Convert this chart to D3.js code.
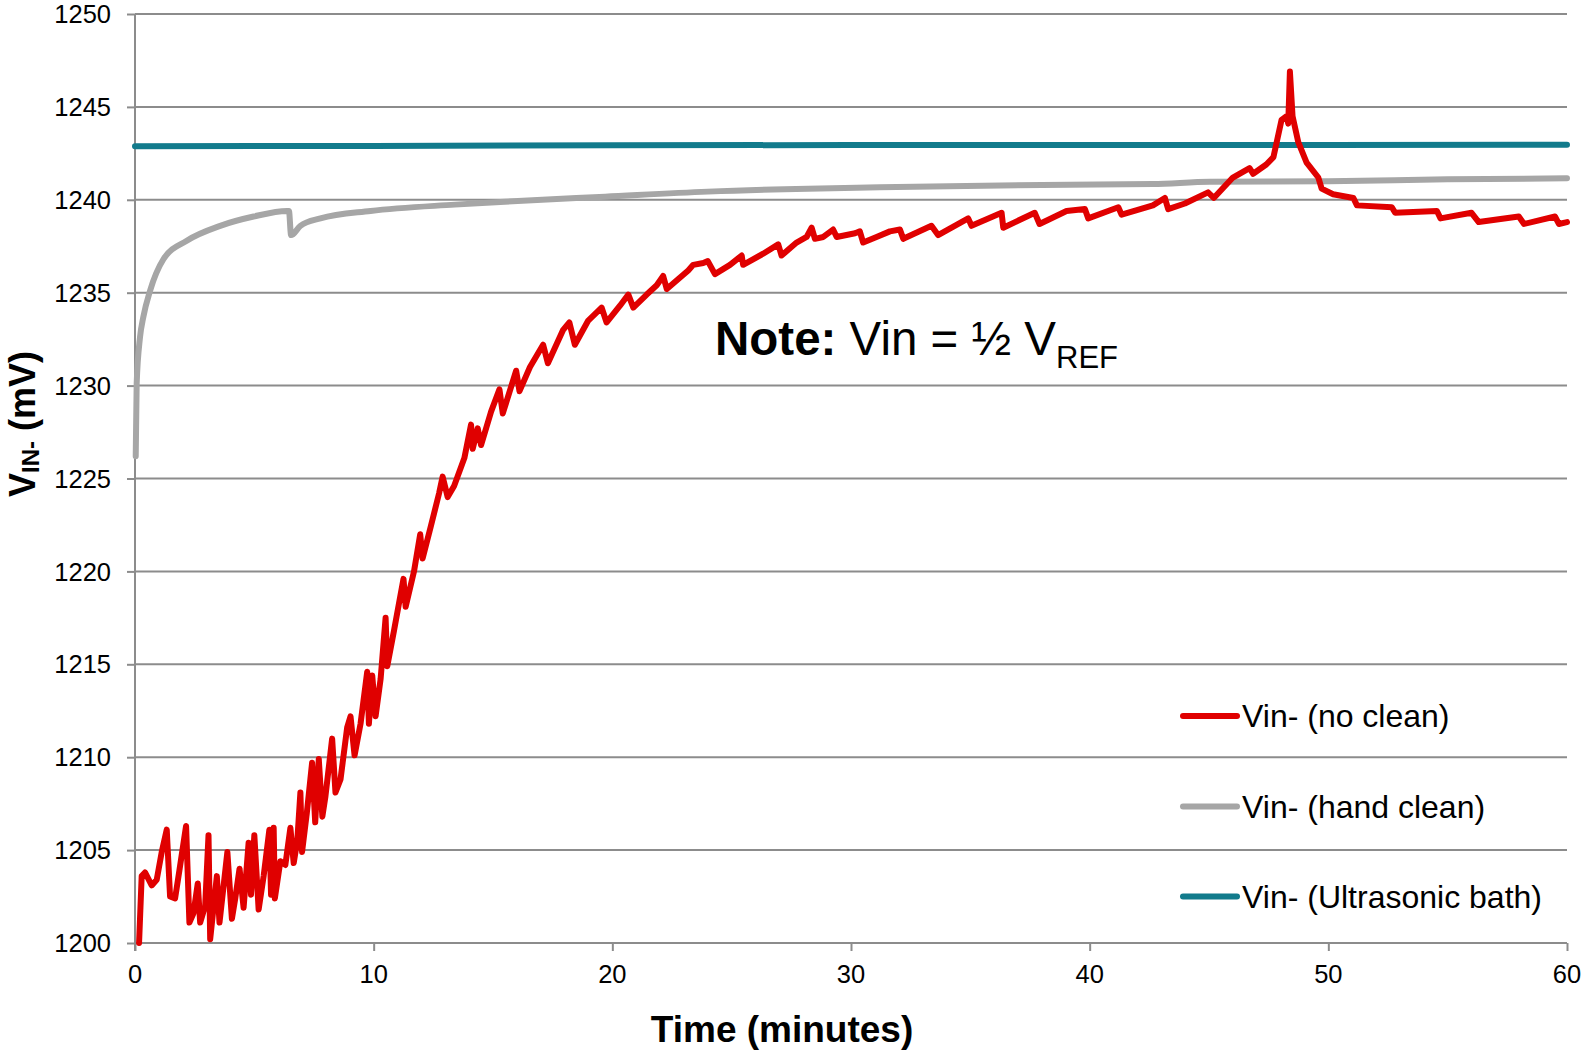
<!DOCTYPE html>
<html>
<head>
<meta charset="utf-8">
<script src="https://cdn.jsdelivr.net/npm/d3@7"></script>
<style>
  html, body { margin: 0; padding: 0; background: #fff; }
  svg { display: block; font-family: Arial, "Liberation Sans", sans-serif; }
</style>
</head>
<body>
<svg id="chart" width="1581" height="1050"></svg>
<script>
// ---- data ----
const xTicks = [0, 10, 20, 30, 40, 50, 60];
const yTicks = [1200, 1205, 1210, 1215, 1220, 1225, 1230, 1235, 1240, 1245, 1250];
const seriesNames = ["Vin- (no clean)", "Vin- (hand clean)", "Vin- (Ultrasonic bath)"];
const seriesColors = ["#E00000", "#A6A6A6", "#127B8C"];

const noCleanT = [0.17,0.28,0.42,0.70,0.91,1.12,1.33,1.47,1.68,1.86,2.14,2.28,2.45,2.63,2.73,2.94,3.08,3.15,3.43,3.54,3.87,4.06,4.20,4.38,4.55,4.76,4.86,5.00,5.18,5.39,5.63,5.70,5.81,5.86,6.09,6.30,6.51,6.65,6.80,6.93,7.00,7.20,7.42,7.55,7.70,7.85,7.98,8.26,8.40,8.61,8.89,9.03,9.20,9.45,9.73,9.80,9.94,10.08,10.29,10.50,10.57,10.85,11.25,11.34,11.69,11.95,12.05,12.39,12.74,12.89,13.10,13.37,13.80,14.08,14.15,14.36,14.50,14.92,15.27,15.41,15.97,16.11,16.55,17.10,17.30,17.94,18.20,18.43,18.99,19.55,19.76,20.32,20.67,20.88,21.44,21.86,22.13,22.28,23.18,23.39,23.81,24.00,24.30,24.93,25.42,25.48,26.32,26.95,27.09,27.72,28.14,28.35,28.49,28.84,29.25,29.40,30.17,30.37,30.51,31.07,31.63,32.05,32.19,33.37,33.65,34.91,35.05,36.31,36.38,37.70,37.90,39.03,39.80,39.94,41.20,41.34,42.65,43.15,43.29,43.99,44.96,45.20,46.00,46.70,46.85,47.40,47.70,48.04,48.25,48.32,48.39,48.50,48.74,49.09,49.58,49.72,50.20,51.05,51.20,52.66,52.80,54.55,54.70,56.00,56.30,57.98,58.20,59.50,59.66,60.00];
const noCleanV = [1200.0,1203.6,1203.8,1203.1,1203.4,1204.9,1206.1,1202.5,1202.4,1203.9,1206.3,1201.1,1201.6,1203.2,1201.1,1202.0,1205.8,1200.2,1203.6,1201.1,1204.9,1201.3,1202.4,1204.0,1201.9,1205.4,1202.6,1205.8,1201.8,1203.6,1206.1,1202.6,1206.2,1202.4,1204.4,1204.2,1206.2,1204.3,1205.5,1208.1,1204.9,1207.0,1209.7,1206.5,1209.9,1206.8,1207.9,1211.0,1208.1,1208.8,1211.6,1212.2,1210.1,1211.8,1214.6,1211.8,1214.4,1212.2,1214.2,1217.5,1214.9,1216.8,1219.6,1218.1,1220.0,1222.0,1220.7,1222.4,1224.2,1225.1,1224.0,1224.6,1226.1,1227.9,1226.6,1227.7,1226.8,1228.6,1229.8,1228.5,1230.8,1229.7,1231.0,1232.2,1231.2,1233.0,1233.4,1232.2,1233.5,1234.2,1233.4,1234.3,1234.9,1234.2,1234.9,1235.4,1235.9,1235.2,1236.2,1236.5,1236.6,1236.7,1236.0,1236.5,1237.0,1236.5,1237.1,1237.6,1237.0,1237.7,1238.0,1238.5,1237.9,1238.0,1238.4,1238.0,1238.2,1238.3,1237.7,1238.0,1238.3,1238.4,1237.9,1238.6,1238.1,1239.0,1238.6,1239.3,1238.5,1239.3,1238.7,1239.4,1239.5,1239.0,1239.6,1239.2,1239.7,1240.1,1239.5,1239.8,1240.4,1240.1,1241.2,1241.7,1241.4,1241.9,1242.3,1244.3,1244.5,1244.1,1246.9,1244.5,1243.1,1242.0,1241.2,1240.6,1240.3,1240.1,1239.7,1239.6,1239.3,1239.4,1239.0,1239.3,1238.8,1239.1,1238.7,1239.1,1238.7,1238.8];

const handCleanT = [0.03,0.07,0.21,0.35,0.63,1.19,2.17,3.57,4.97,6.37,6.45,6.54,6.93,7.77,9.87,13.4,15.5,19.7,24.0,28.2,31.2,38.0,42.65,45.04,50.0,55.0,60.0];
const handCleanV = [1226.2,1230.1,1232.6,1233.7,1235.1,1236.8,1237.8,1238.6,1239.1,1239.4,1239.4,1238.1,1238.6,1239.0,1239.4,1239.74,1239.9,1240.17,1240.44,1240.6,1240.67,1240.8,1240.85,1240.97,1241.0,1241.1,1241.16];

const ultrasonicT = [0, 10, 20, 30, 40, 50, 60];
const ultrasonicV = [1242.88, 1242.9, 1242.93, 1242.95, 1242.95, 1242.95, 1242.96];

// ---- layout ----
const svg = d3.select("#chart");
const mLeft = 135, mRight = 1567, mTop = 14, mBottom = 943;
const x = d3.scaleLinear().domain([0, 60]).range([mLeft, mRight]);
const y = d3.scaleLinear().domain([1200, 1250]).range([mBottom, mTop]);
const gridColor = "#8C8C8C";

// gridlines + y ticks
const yAxis = d3.axisLeft(y).tickValues(yTicks).tickSize(8).tickFormat("");
const gy = svg.append("g").attr("transform", `translate(${mLeft},0)`).call(yAxis);
gy.select(".domain").remove();
gy.selectAll(".tick line").attr("stroke", gridColor).attr("stroke-width", 2);
svg.append("g").selectAll("line").data(yTicks).join("line")
  .attr("x1", mLeft).attr("x2", mRight)
  .attr("y1", d => y(d)).attr("y2", d => y(d))
  .attr("stroke", gridColor).attr("stroke-width", 2);
svg.append("g").selectAll("text").data(yTicks).join("text")
  .attr("x", 111).attr("y", d => y(d)).attr("dy", "0.36em")
  .attr("text-anchor", "end").attr("font-size", 25.5).attr("fill", "#000")
  .text(d => d);

// y axis line
svg.append("line").attr("x1", mLeft).attr("x2", mLeft).attr("y1", mTop).attr("y2", mBottom + 8)
  .attr("stroke", gridColor).attr("stroke-width", 2);

// x ticks
const xAxis = d3.axisBottom(x).tickValues(xTicks).tickSize(8).tickFormat("");
const gx = svg.append("g").attr("transform", `translate(0,${mBottom})`).call(xAxis);
gx.select(".domain").remove();
gx.selectAll(".tick line").attr("stroke", gridColor).attr("stroke-width", 2);
svg.append("g").selectAll("text").data(xTicks).join("text")
  .attr("x", d => x(d)).attr("y", 983)
  .attr("text-anchor", "middle").attr("font-size", 25.5).attr("fill", "#000")
  .text(d => d);

// series
const lineSharp = d3.line().x(d => x(d[0])).y(d => y(d[1]));
const lineSmooth = d3.line().x(d => x(d[0])).y(d => y(d[1])).curve(d3.curveMonotoneX);
const series = [
  { pts: d3.zip(ultrasonicT, ultrasonicV), color: seriesColors[2], gen: lineSharp },
  { pts: d3.zip(handCleanT, handCleanV), color: seriesColors[1], gen: lineSmooth },
  { pts: d3.zip(noCleanT, noCleanV), color: seriesColors[0], gen: lineSharp }
];
svg.append("g").selectAll("path").data(series).join("path")
  .attr("d", d => d.gen(d.pts))
  .attr("fill", "none").attr("stroke", d => d.color)
  .attr("stroke-width", 6).attr("stroke-linejoin", "round").attr("stroke-linecap", "round");

// legend
const legendY = [716, 806.5, 896.5];
const lg = svg.append("g").selectAll("g").data(seriesNames).join("g")
  .attr("transform", (d, i) => `translate(0,${legendY[i]})`);
lg.append("line").attr("x1", 1183).attr("x2", 1237).attr("y1", 0).attr("y2", 0)
  .attr("stroke", (d, i) => seriesColors[i]).attr("stroke-width", 6).attr("stroke-linecap", "round");
lg.append("text").attr("x", 1242).attr("y", 11).attr("font-size", 32).attr("fill", "#000")
  .text(d => d);

// note
const note = svg.append("text").attr("x", 715).attr("y", 355).attr("font-size", 47.5).attr("fill", "#000");
note.append("tspan").attr("font-weight", "bold").text("Note:");
note.append("tspan").text(" Vin = ½ V");
note.append("tspan").attr("font-size", 31).attr("dy", 13).text("REF");

// axis titles
svg.append("text").attr("x", 782).attr("y", 1042).attr("text-anchor", "middle")
  .attr("font-size", 37).attr("font-weight", "bold").attr("fill", "#000")
  .text("Time (minutes)");
const yt = svg.append("text").attr("transform", "translate(35,424) rotate(-90)")
  .attr("text-anchor", "middle").attr("font-size", 36).attr("font-weight", "bold").attr("fill", "#000");
yt.append("tspan").text("V");
yt.append("tspan").attr("font-size", 24).attr("dy", 4).text("IN-");
yt.append("tspan").attr("dy", -4).text(" (mV)");
</script>
</body>
</html>
